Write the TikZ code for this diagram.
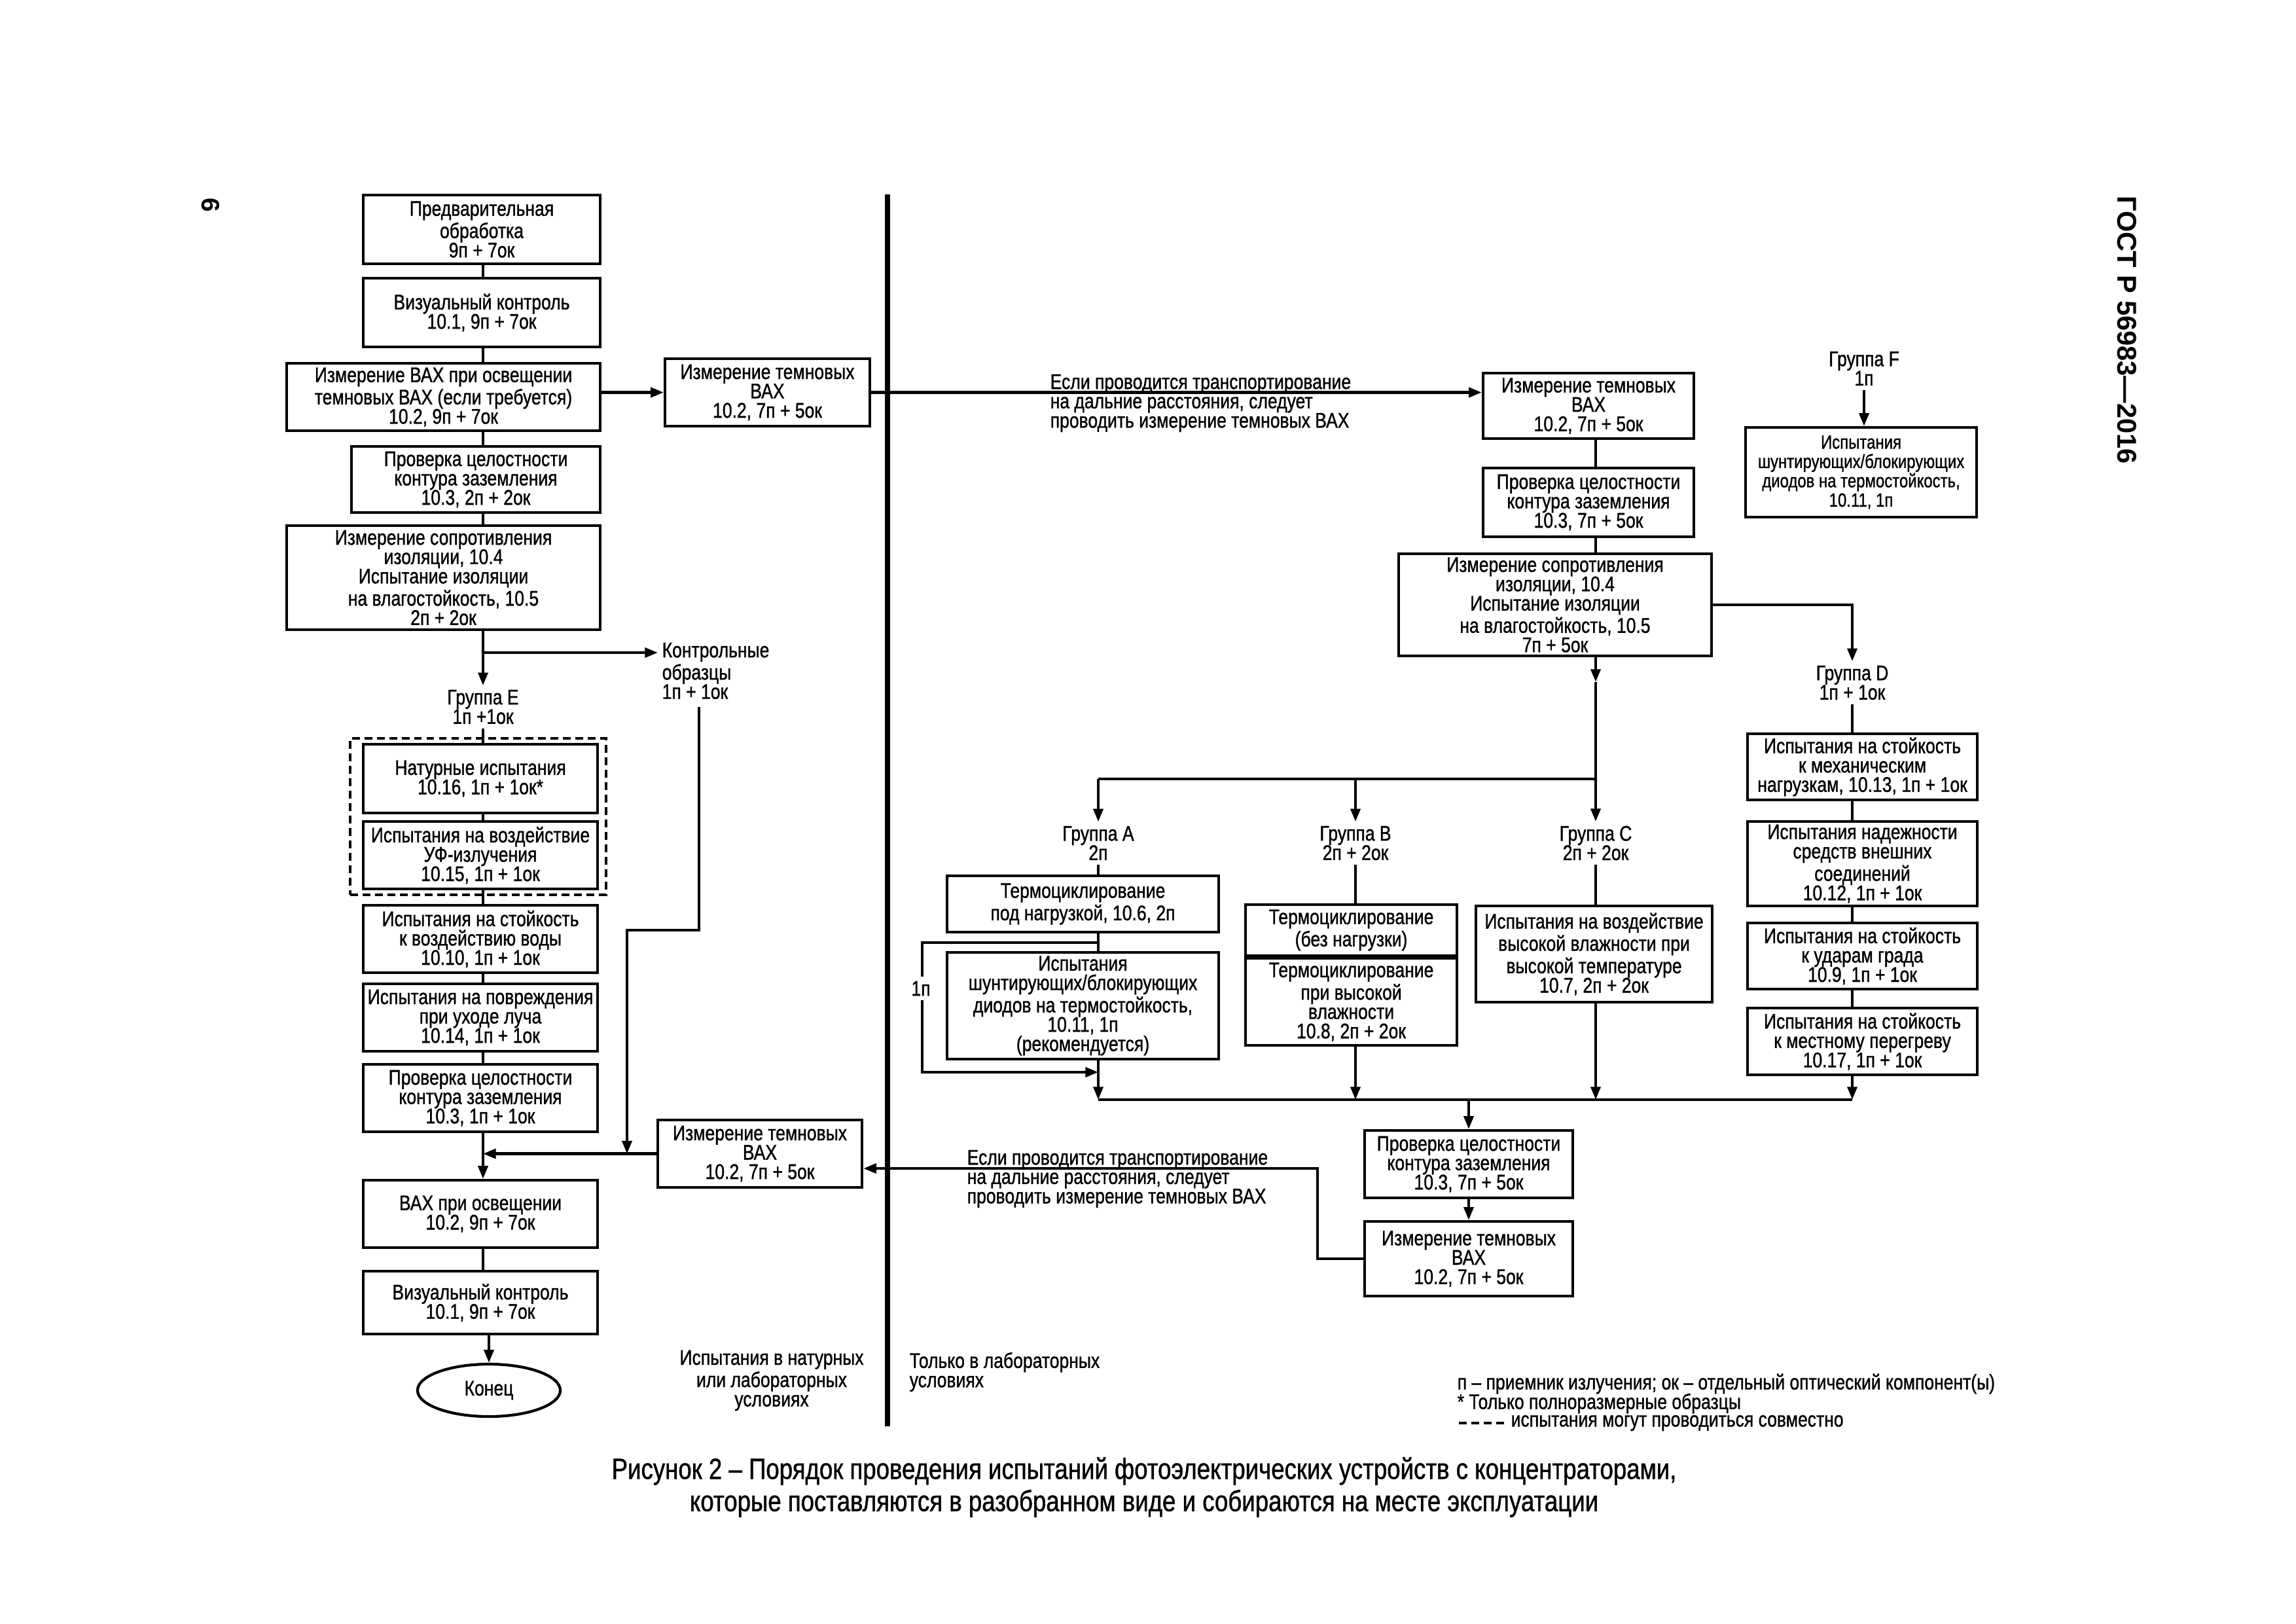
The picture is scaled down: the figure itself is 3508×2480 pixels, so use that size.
\documentclass[tikz,border=0pt]{standalone}
\usepackage{fontspec}
\setmainfont{Liberation Sans}[FakeStretch=0.82,FakeBold=1]
\newfontfamily\widefont{Liberation Sans}
\usetikzlibrary{arrows.meta,shapes.geometric}
\begin{document}
\begin{tikzpicture}[x=0.01cm,y=-0.01cm,
  txt/.style={font=\fontsize{9.2pt}{8.4pt}\selectfont},
  box/.style={draw, line width=1.2pt, align=center, inner sep=0pt, txt},
  sz/.style 2 args={minimum width=#1*0.01cm, minimum height=#2*0.01cm},
  lbl/.style={align=center, inner sep=0.06cm, txt},
  conn/.style={line width=1.2pt},
  arr/.style={line width=1.2pt, -{Triangle[length=5.6pt,width=4.2pt]}},
  dsh/.style={line width=1.1pt, dash pattern=on 3.4pt off 2pt}]
\fill[white] (0,0) rectangle (3508,2480);
\useasboundingbox (0,0) rectangle (3508,2480);

% column coordinates
\coordinate (cL) at (738,0);
\coordinate (cR) at (2438,0);

% header and page number
\node[rotate=-90, inner sep=0pt, font=\widefont\bfseries\fontsize{11.8pt}{12pt}\selectfont] (hdr) at (3250,504) {ГОСТ Р 56983—2016};
\node[rotate=-90, inner sep=0pt, font=\widefont\bfseries\fontsize{11pt}{12pt}\selectfont] (pg) at (322,313) {6};

% divider
\coordinate (dvt) at (1356,297);
\coordinate (dvb) at (1356,2179);
\draw[line width=2.2pt] (dvt) -- (dvb);

% ---------- left column ----------
\node[box,sz={362}{105}] (b1) at (736,350.5) {Предварительная\\обработка\\9п + 7ок};
\node[box,sz={362}{105}] (b2) at (736,477.5) {Визуальный контроль\\10.1, 9п + 7ок};
\node[box,sz={479}{103}] (b3) at (677.5,606.5) {Измерение ВАХ при освещении\\темновых ВАХ (если требуется)\\10.2, 9п + 7ок};
\node[box,sz={313}{103}] (b4) at (1172.5,599.5) {Измерение темновых\\ВАХ\\10.2, 7п + 5ок};
\node[box,sz={380}{101}] (b5) at (727,732.5) {Проверка целостности\\контура заземления\\10.3, 2п + 2ок};
\node[box,sz={479}{159}] (b6) at (677.5,882.5) {Измерение сопротивления\\изоляции, 10.4\\Испытание изоляции\\на влагостойкость, 10.5\\2п + 2ок};

\node[lbl] (ge) at (738,1080) {Группа Е\\1п +1ок};
\node[lbl, anchor=west, align=left] (ctrl) at (1005,1025) {Контрольные\\образцы\\1п + 1ок};

\node[draw, dsh, sz={391}{239}, inner sep=0pt] (dbox) at (730.5,1247.5) {};

\node[box,sz={358}{105}] (n1) at (734,1189.5) {Натурные испытания\\10.16, 1п + 1ок*};
\node[box,sz={358}{103}] (n2) at (734,1306.5) {Испытания на воздействие\\УФ-излучения\\10.15, 1п + 1ок};
\node[box,sz={358}{103}] (n3) at (734,1434.5) {Испытания на стойкость\\к воздействию воды\\10.10, 1п + 1ок};
\node[box,sz={358}{103}] (n4) at (734,1554.5) {Испытания на повреждения\\при уходе луча\\10.14, 1п + 1ок};
\node[box,sz={358}{103}] (n5) at (734,1677.5) {Проверка целостности\\контура заземления\\10.3, 1п + 1ок};
\node[box,sz={312}{103}] (ld) at (1161,1762.5) {Измерение темновых\\ВАХ\\10.2, 7п + 5ок};
\node[box,sz={358}{103}] (n6) at (734,1854.5) {ВАХ при освещении\\10.2, 9п + 7ок};
\node[box,sz={358}{96}] (n7) at (734,1990) {Визуальный контроль\\10.1, 9п + 7ок};
\node[draw, ellipse, line width=1.2pt, minimum width=2.18cm, minimum height=0.8cm, inner sep=0pt, txt] (fin) at (747,2124) {Конец};

\draw[conn] (b1.south -| cL) -- (b2.north -| cL);
\draw[conn] (b2.south -| cL) -- (b3.north -| cL);
\draw[conn] (b3.south -| cL) -- (b5.north -| cL);
\draw[conn] (b5.south -| cL) -- (b6.north -| cL);
\draw[arr] (b3.east |- b4.west) -- (b4.west);
\draw[arr] (b6.south -| cL) -- (ge.north -| cL);
\coordinate (br1) at (738,997);
\draw[arr] (br1) -- (br1 -| ctrl.west);
\draw[conn] (ge.south -| cL) -- (n1.north -| cL);
\draw[conn] (n1.south -| cL) -- (n2.north -| cL);
\draw[conn] (n2.south -| cL) -- (n3.north -| cL);
\draw[conn] (n3.south -| cL) -- (n4.north -| cL);
\draw[conn] (n4.south -| cL) -- (n5.north -| cL);
\draw[arr] (n5.south -| cL) -- (n6.north -| cL);
\draw[arr] (ld.west) -- (ld.west -| cL);
\coordinate (k1) at (1068,1080);
\coordinate (k2) at (958,1421);
\draw[arr] (k1) |- (k2) -- (k2 |- ld.west);
\draw[conn] (n6.south -| cL) -- (n7.north -| cL);
\draw[arr] (n7.south -| fin.north) -- (fin.north);

% ---------- right part ----------
\node[box,sz={322}{100}] (r1) at (2427,620) {Измерение темновых\\ВАХ\\10.2, 7п + 5ок};
\node[box,sz={322}{105}] (r2) at (2427,767.5) {Проверка целостности\\контура заземления\\10.3, 7п + 5ок};
\node[box,sz={478}{156}] (r3) at (2376,924) {Измерение сопротивления\\изоляции, 10.4\\Испытание изоляции\\на влагостойкость, 10.5\\7п + 5ок};

\draw[arr] (b4.east) -- (b4.east -| r1.west);
\node[lbl, anchor=west, align=left] (t1) at (1598,616) {Если проводится транспортирование\\на дальние расстояния, следует\\проводить измерение темновых ВАХ};

\draw[conn] (r1.south -| cR) -- (r2.north -| cR);
\draw[conn] (r2.south -| cR) -- (r3.north -| cR);

\node[lbl] (gA) at (1678,1288) {Группа А\\2п};
\node[lbl] (gB) at (2071,1288) {Группа В\\2п + 2ок};
\node[lbl] (gC) at (2438,1288) {Группа С\\2п + 2ок};
\node[lbl] (gD) at (2830,1043) {Группа D\\1п + 1ок};

\coordinate (ra) at (2438,1042);
\coordinate (rb) at (2438,1190);
\draw[arr] (r3.south -| cR) -- (ra);
\draw[conn] (ra) -- (rb);
\draw[arr] (rb) -- (gC.north);
\draw[conn] (rb) -- (rb -| gA);
\draw[arr] (rb -| gA) -- (gA.north);
\draw[arr] (rb -| gB) -- (gB.north);
\draw[arr] (r3.east) -| (gD.north);

% group A
\node[box,sz={415}{86}] (a1) at (1654.5,1381) {Термоциклирование\\под нагрузкой, 10.6, 2п};
\node[box,sz={415}{163}] (a2) at (1654.5,1536.5) {Испытания\\шунтирующих/блокирующих\\диодов на термостойкость,\\10.11, 1п\\(рекомендуется)};
\draw[conn] (gA.south) -- (a1.north -| gA);
\draw[conn] (a1.south -| gA) -- (a2.north -| gA);
\coordinate (l1) at (1678,1440);
\coordinate (l2) at (1409,1638);
\draw[arr] (l1) -| (l2) -- (l2 -| gA);
\node[lbl, fill=white, inner sep=2pt] (one) at (1407,1510) {1п};

% group B
\node[box,sz={323}{78}] (bb1) at (2064.5,1421) {Термоциклирование\\(без нагрузки)};
\node[box,sz={323}{133}] (bb2) at (2064.5,1530.5) {Термоциклирование\\при высокой\\влажности\\10.8, 2п + 2ок};
\draw[conn] (gB.south) -- (bb1.north -| gB);

% group C
\node[box,sz={361}{147}] (cc) at (2435.5,1457.5) {Испытания на воздействие\\высокой влажности при\\высокой температуре\\10.7, 2п + 2ок};
\draw[conn] (gC.south) -- (cc.north -| gC);

% group D
\node[box,sz={351}{101}] (d1) at (2845.5,1171.5) {Испытания на стойкость\\к механическим\\нагрузкам, 10.13, 1п + 1ок};
\node[box,sz={351}{129}] (d2) at (2845.5,1319.5) {Испытания надежности\\средств внешних\\соединений\\10.12, 1п + 1ок};
\node[box,sz={351}{101}] (d3) at (2845.5,1460.5) {Испытания на стойкость\\к ударам града\\10.9, 1п + 1ок};
\node[box,sz={351}{102}] (d4) at (2845.5,1591) {Испытания на стойкость\\к местному перегреву\\10.17, 1п + 1ок};
\draw[conn] (gD.south) -- (d1.north -| gD);
\draw[conn] (d1.south -| gD) -- (d2.north -| gD);
\draw[conn] (d2.south -| gD) -- (d3.north -| gD);
\draw[conn] (d3.south -| gD) -- (d4.north -| gD);

% bus
\coordinate (bus1) at (1678,1680);
\draw[arr] (a2.south -| gA) -- (bus1);
\draw[arr] (bb2.south -| gB) -- (gB |- bus1);
\draw[arr] (cc.south -| gC) -- (gC |- bus1);
\draw[arr] (d4.south -| gD) -- (gD |- bus1);
\draw[conn] (bus1) -- (gD |- bus1);

\node[box,sz={318}{103}] (pp) at (2244,1778.5) {Проверка целостности\\контура заземления\\10.3, 7п + 5ок};
\node[box,sz={318}{114}] (qq) at (2244,1923) {Измерение темновых\\ВАХ\\10.2, 7п + 5ок};
\draw[arr] (pp.north |- bus1) -- (pp.north);
\draw[arr] (pp.south) -- (qq.north);
\coordinate (qj) at (2013,1785);
\draw[arr] (qq.west) -| (qj) -- (qj -| ld.east);
\node[lbl, anchor=west, align=left] (t2) at (1471,1801) {Если проводится транспортирование\\на дальние расстояния, следует\\проводить измерение темновых ВАХ};

% group F
\node[lbl] (gF) at (2848,563) {Группа F\\1п};
\node[box,sz={353}{137}, font=\fontsize{8.3pt}{8.4pt}\selectfont] (fb) at (2843.5,721.5) {Испытания\\шунтирующих/блокирующих\\диодов на термостойкость,\\10.11, 1п};
\draw[arr] (gF.south) -- (fb.north -| gF);

% bottom texts
\node[lbl] (fld) at (1179,2109) {Испытания в натурных\\или лабораторных\\условиях};
\node[lbl, anchor=west, align=left] (lab) at (1383,2096) {Только в лабораторных\\условиях};

% legend
\node[lbl, anchor=west, align=left] (lg1) at (2220,2114) {п – приемник излучения; ок – отдельный оптический компонент(ы)};
\node[lbl, anchor=west, align=left] (lg2) at (2220,2144) {* Только полноразмерные образцы};
\coordinate (dl1) at (2229,2174);
\coordinate (dl2) at (2302,2174);
\draw[line width=1.1pt, dash pattern=on 3.4pt off 2pt] (dl1) -- (dl2);
\node[lbl, anchor=west, align=left] (lg3) at (2302,2174) {испытания могут проводиться совместно};

% caption
\node[align=center, inner sep=0pt, font=\fontsize{12.7pt}{14pt}\selectfont] (cap) at (1748,2272) {Рисунок 2 – Порядок проведения испытаний фотоэлектрических устройств с концентраторами,\\которые поставляются в разобранном виде и собираются на месте эксплуатации};
\end{tikzpicture}
\end{document}
